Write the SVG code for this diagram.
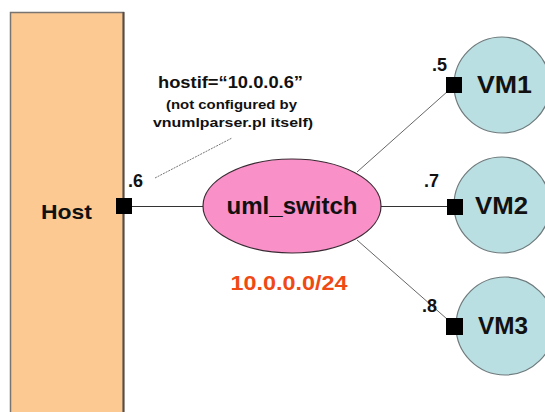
<svg xmlns="http://www.w3.org/2000/svg" width="545" height="412" viewBox="0 0 545 412">
<style>
text{font-family:"Liberation Sans",Arial,sans-serif;font-weight:bold;fill:#111}
.vm{fill:#BADFE2;stroke:#6E7A7C;stroke-width:1.2}
.port{fill:#000}
.lbl{font-size:23px}
.ip{font-size:18px}
.link{stroke:#333;stroke-width:1.1;fill:none}
.diag{stroke:#555;stroke-width:0.9;fill:none}
</style>
<rect width="545" height="412" fill="#fff"/>
<g id="host">
<rect x="10.5" y="12.5" width="113" height="410" fill="#FCC993" stroke="#7A7470" stroke-width="1.5"/>
<line x1="123.5" y1="12" x2="123.5" y2="412" stroke="#5A4C44" stroke-width="2"/>
<text x="41" y="219" font-size="21" textLength="51" lengthAdjust="spacingAndGlyphs">Host</text>
</g>
<g id="connectors">
<line class="link" x1="132" y1="206.5" x2="203" y2="206.5"/>
<line class="link" x1="381" y1="206.5" x2="447" y2="206.5"/>
<line class="diag" x1="357" y1="172" x2="448" y2="91"/>
<line class="diag" x1="357" y1="240" x2="447" y2="319"/>
<line x1="155" y1="178" x2="232" y2="138" stroke="#777" stroke-width="1" stroke-dasharray="2,1"/>
</g>
<g id="uml_switch">
<ellipse cx="292" cy="206" rx="89" ry="47" fill="#F990C7" stroke="#3A2A33" stroke-width="1.2"/>
<text x="292" y="214" font-size="23" text-anchor="middle" textLength="131" lengthAdjust="spacingAndGlyphs">uml_switch</text>
</g>
<g id="net-label">
<text x="289" y="290" font-size="21" text-anchor="middle" style="fill:#F04A14" textLength="117" lengthAdjust="spacingAndGlyphs">10.0.0.0/24</text>
</g>
<g id="hostif-note">
<text x="158" y="88" font-size="16" textLength="145" lengthAdjust="spacingAndGlyphs">hostif=“10.0.0.6”</text>
<text x="166" y="109" font-size="13" textLength="131" lengthAdjust="spacingAndGlyphs">(not configured by</text>
<text x="153" y="127" font-size="13" textLength="160" lengthAdjust="spacingAndGlyphs">vnumlparser.pl itself)</text>
</g>
<g id="host-port">
<rect class="port" x="116" y="198" width="16" height="16"/>
<text class="ip" x="128" y="187">.6</text>
</g>
<g id="vm1">
<circle class="vm" cx="502" cy="85" r="48"/>
<text class="lbl" x="477" y="93" textLength="55" lengthAdjust="spacingAndGlyphs">VM1</text>
<rect class="port" x="446" y="77" width="16" height="16"/>
<text class="ip" x="432" y="71">.5</text>
</g>
<g id="vm2">
<circle class="vm" cx="502" cy="205" r="48"/>
<text class="lbl" x="475" y="214" textLength="53" lengthAdjust="spacingAndGlyphs">VM2</text>
<rect class="port" x="447" y="199" width="16" height="16"/>
<text class="ip" x="424" y="187">.7</text>
</g>
<g id="vm3">
<circle class="vm" cx="505" cy="326" r="49"/>
<text class="lbl" x="478" y="334" textLength="50" lengthAdjust="spacingAndGlyphs">VM3</text>
<rect class="port" x="446" y="318" width="17" height="17"/>
<text class="ip" x="422" y="312">.8</text>
</g>
</svg>
